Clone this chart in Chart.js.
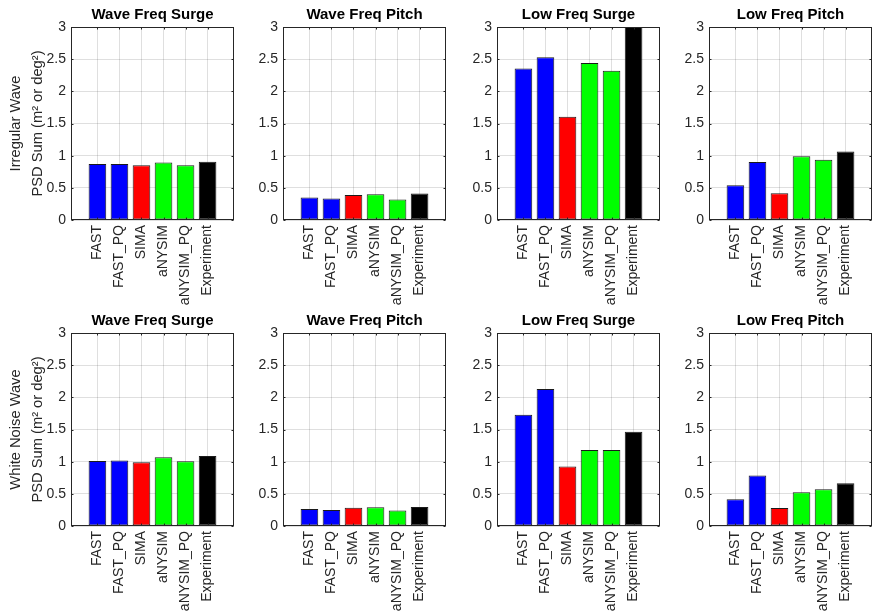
<!DOCTYPE html>
<html><head><meta charset="utf-8">
<script src="https://cdn.jsdelivr.net/npm/chart.js@4/dist/chart.umd.min.js"></script>
<style>
html,body{margin:0;padding:0;background:#fff;}
#wrap{position:relative;width:878px;height:612px;overflow:hidden;}
canvas{position:absolute;left:0;top:0;}
</style></head><body><div id="wrap"></div>
<script>
// ---- data ----
const categories = ['FAST', 'FAST_PQ', 'SIMA', 'aNYSIM', 'aNYSIM_PQ', 'Experiment'];
const barColors = ['#0000ff', '#0000ff', '#ff0000', '#00ff00', '#00ff00', '#000000'];
const panelTitles = ['Wave Freq Surge', 'Wave Freq Pitch', 'Low Freq Surge', 'Low Freq Pitch'];
const rowLabels = ['Irregular Wave', 'White Noise Wave'];
const yAxisUnit = 'PSD Sum (m\u00B2 or deg\u00B2)';
const yTickValues = [0, 0.5, 1, 1.5, 2, 2.5, 3];
const yTickLabels = ['0', '0.5', '1', '1.5', '2', '2.5', '3'];

const irrWaveFreqSurge = [0.87, 0.87, 0.85, 0.895, 0.85, 0.905];
const irrWaveFreqPitch = [0.35, 0.335, 0.39, 0.40, 0.32, 0.41];
const irrLowFreqSurge  = [2.355, 2.53, 1.605, 2.44, 2.32, 3.10];
const irrLowFreqPitch  = [0.54, 0.90, 0.415, 0.99, 0.935, 1.065];
const wnWaveFreqSurge  = [1.01, 1.02, 0.99, 1.07, 1.005, 1.09];
const wnWaveFreqPitch  = [0.265, 0.25, 0.285, 0.29, 0.24, 0.295];
const wnLowFreqSurge   = [1.73, 2.13, 0.925, 1.18, 1.18, 1.465];
const wnLowFreqPitch   = [0.415, 0.785, 0.28, 0.525, 0.57, 0.665];

const rows = [
  [irrWaveFreqSurge, irrWaveFreqPitch, irrLowFreqSurge, irrLowFreqPitch],
  [wnWaveFreqSurge, wnWaveFreqPitch, wnLowFreqSurge, wnLowFreqPitch]
];

// ---- layout ----
const W = 878, H = 612;
const colLeft = [71, 283, 497, 709];
const plotW = 163;
const rowTop = [27, 333];
const plotH = 193;
const xAxisH = 85;
const FONT = '"Liberation Sans", Arial, Helvetica, sans-serif';
const TXT = '#262626';

const framePlugin = {
  id: 'frame',
  afterDraw(chart, args, opts) {
    const {ctx, chartArea: a, scales: {x, y}} = chart;
    ctx.save();
    ctx.strokeStyle = TXT; ctx.lineWidth = 1;
    const L = Math.round(a.left) + 0.5, R = Math.round(a.right) - 0.5;
    const T = Math.round(a.top) + 0.5, B = Math.round(a.bottom) - 0.5;
    ctx.strokeRect(L, T, R - L, B - T);
    ctx.beginPath();
    y.ticks.forEach(t => {
      const p = Math.round(y.getPixelForValue(t.value)) + 0.5;
      ctx.moveTo(L, p); ctx.lineTo(L + 2, p);
      ctx.moveTo(R, p); ctx.lineTo(R - 2, p);
    });
    x.ticks.forEach(t => {
      const p = Math.round(x.getPixelForValue(t.value)) + 0.5;
      ctx.moveTo(p, B); ctx.lineTo(p, B - 2);
      ctx.moveTo(p, T); ctx.lineTo(p, T + 2);
    });
    ctx.stroke();
    ctx.fillStyle = '#000';
    ctx.font = 'bold 15px ' + FONT;
    ctx.textAlign = 'center'; ctx.textBaseline = 'middle';
    ctx.fillText(opts.text, (a.left + a.right) / 2, a.top - 12);
    ctx.restore();
  }
};

const wrap = document.getElementById('wrap');
rows.forEach((rowData, r) => {
  rowData.forEach((vals, c) => {
    const cv = document.createElement('canvas');
    cv.width = W; cv.height = H;
    cv.style.width = W + 'px'; cv.style.height = H + 'px';
    wrap.appendChild(cv);
    const yW = c === 0 ? colLeft[0] : 45;
    new Chart(cv, {
      type: 'bar',
      data: {
        datasets: [{
          data: vals.map((v, i) => ({x: i + 1, y: v})),
          backgroundColor: barColors,
          borderColor: '#1a1a1a',
          borderWidth: 1,
          borderSkipped: false,
          categoryPercentage: 1,
          barPercentage: 0.8
        }]
      },
      options: {
        responsive: false,
        animation: false,
        devicePixelRatio: 1,
        layout: {
          padding: {
            left: colLeft[c] - yW,
            right: W - colLeft[c] - plotW,
            top: rowTop[r],
            bottom: H - rowTop[r] - plotH - xAxisH
          }
        },
        plugins: {
          legend: {display: false},
          tooltip: {enabled: false},
          title: {display: false},
          frame: {text: panelTitles[c]}
        },
        scales: {
          x: {
            type: 'linear',
            min: -0.2, max: 7.2,
            offset: false,
            grid: {offset: false, color: 'rgba(38,38,38,0.15)', drawTicks: false},
            border: {display: false},
            afterBuildTicks: s => { s.ticks = categories.map((_, i) => ({value: i + 1})); },
            afterFit: s => { s.height = xAxisH; },
            ticks: {
              autoSkip: false,
              includeBounds: false,
              maxRotation: 90, minRotation: 90,
              padding: 5,
              color: TXT,
              font: {family: FONT, size: 14},
              callback: v => categories[v - 1] ?? ''
            }
          },
          y: {
            min: 0, max: 3,
            grid: {color: 'rgba(38,38,38,0.15)', drawTicks: false},
            border: {display: false},
            afterBuildTicks: s => { s.ticks = yTickValues.map(v => ({value: v})); },
            afterFit: s => { s.width = yW; },
            ticks: {
              padding: 5,
              color: TXT,
              font: {family: FONT, size: 14},
              callback: v => yTickLabels[yTickValues.indexOf(v)] ?? String(v)
            },
            title: {
              display: c === 0,
              text: [rowLabels[r], yAxisUnit],
              color: TXT,
              font: {family: FONT, size: 14.7, lineHeight: 1.5},
              padding: {top: 4.5, bottom: 0}
            }
          }
        }
      },
      plugins: [framePlugin]
    });
  });
});
</script>
</body></html>
